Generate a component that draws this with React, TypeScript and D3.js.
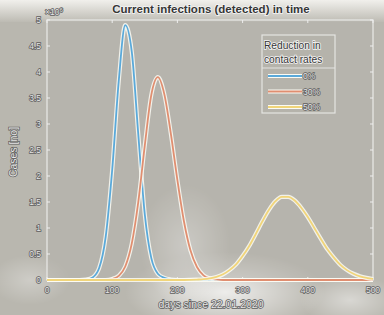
import React from 'react';
import * as d3 from 'd3';

// days since 22.01.2020, sampled every 10 days
const days = d3.range(0, 501, 10);

const reduction0 = [
  0, 0, 0, 0, 0, 0, 0.01, 0.05, 0.23, 0.83, 2.12, 3.82, 4.9, 4.39, 2.8, 1.26,
  0.42, 0.12, 0.04, 0.01, 0, 0, 0, 0, 0, 0, 0, 0, 0, 0, 0, 0, 0, 0, 0, 0,
  0, 0, 0, 0, 0, 0, 0, 0, 0, 0, 0, 0, 0, 0, 0,
];
const reduction30 = [
  0, 0, 0, 0, 0, 0, 0, 0, 0, 0, 0.02, 0.08, 0.26, 0.7, 1.5, 2.59, 3.56, 3.9,
  3.57, 2.81, 1.92, 1.13, 0.57, 0.25, 0.09, 0.03, 0.01, 0, 0, 0, 0, 0, 0, 0,
  0, 0, 0, 0, 0, 0, 0, 0, 0, 0, 0, 0, 0, 0, 0, 0, 0,
];
const reduction50 = [
  0, 0, 0, 0, 0, 0, 0, 0, 0, 0, 0, 0, 0, 0, 0, 0, 0, 0, 0, 0, 0, 0, 0.003,
  0.008, 0.015, 0.03, 0.06, 0.11, 0.19, 0.3, 0.46, 0.65, 0.88, 1.12, 1.34,
  1.51, 1.6, 1.6, 1.53, 1.39, 1.21, 1.0, 0.79, 0.59, 0.43, 0.29, 0.19, 0.12,
  0.07, 0.04, 0.02,
];

const seriesNames = ['0%', '30%', '50%'];
const seriesColors = ['#5aa9da', '#e08e70', '#f1d57a'];
const seriesValues = [reduction0, reduction30, reduction50];

const yTicks = [0, 0.5, 1, 1.5, 2, 2.5, 3, 3.5, 4, 4.5, 5];
const xTicks = [0, 100, 200, 300, 400, 500];

const W = 384;
const H = 315;
const margin = { top: 20, right: 11, bottom: 35, left: 47 };
const font = 'Liberation Sans, Arial, sans-serif';

const App = () => {
  const x = d3.scaleLinear().domain([0, 500]).range([margin.left, W - margin.right]);
  const y = d3.scaleLinear().domain([0, 5]).range([H - margin.bottom, margin.top]);

  const line = d3.line<number>()
    .x((_, i) => x(days[i]))
    .y(d => y(d))
    .curve(d3.curveMonotoneX);

  const tickText = {
    fontSize: 8.5,
    fill: '#e6e6e6',
    stroke: '#5e5e5e',
    strokeWidth: 1.5,
    paintOrder: 'stroke',
    fontFamily: font,
  } as React.CSSProperties;

  const darkText = {
    fontFamily: font,
    fill: '#363636',
    stroke: '#f4f4f4',
    strokeWidth: 1.6,
    paintOrder: 'stroke',
  } as React.CSSProperties;

  const x0 = x(0);
  const x1 = x(500);
  const yb = y(0);
  const yt = y(5);

  return (
    <div style={{ position: 'fixed', left: 0, top: 0 }}>
      <svg width={W} height={H} style={{ display: 'block' }}>
        <defs>
          <linearGradient id="topfade" x1="0" y1="0" x2="0" y2="1">
            <stop offset="0" stopColor="#f1f0ec" />
            <stop offset="1" stopColor="#bdbbb3" />
          </linearGradient>
          <radialGradient id="cloud">
            <stop offset="0" stopColor="#ffffff" stopOpacity="0.75" />
            <stop offset="1" stopColor="#ffffff" stopOpacity="0" />
          </radialGradient>
        </defs>
        <rect width={W} height={H} fill="#b9b7af" />
        <rect width={W} height={22} fill="url(#topfade)" />
        <ellipse cx={225} cy={292} rx={100} ry={40} fill="url(#cloud)" />
        <ellipse cx={185} cy={245} rx={45} ry={60} fill="url(#cloud)" opacity={0.7} />
        <ellipse cx={350} cy={300} rx={50} ry={25} fill="url(#cloud)" opacity={0.6} />
        <ellipse cx={30} cy={280} rx={40} ry={25} fill="url(#cloud)" opacity={0.4} />

        {/* plot box */}
        <rect x={x0} y={yt} width={x1 - x0} height={yb - yt} fill="#b4b2aa" fillOpacity={0.45}
          stroke="#e6e6e4" strokeWidth={1.3} />

        {/* ticks */}
        {yTicks.map(t => (
          <g key={'y' + t}>
            <line x1={x0} x2={x0 + 3} y1={y(t)} y2={y(t)} stroke="#eeeeee" />
            <line x1={x1} x2={x1 - 3} y1={y(t)} y2={y(t)} stroke="#eeeeee" />
            <text x={x0 - 6} y={y(t) + 3} textAnchor="end" style={tickText}>{t}</text>
          </g>
        ))}
        {xTicks.map(t => (
          <g key={'x' + t}>
            <line x1={x(t)} x2={x(t)} y1={yb} y2={yb - 3} stroke="#eeeeee" />
            <line x1={x(t)} x2={x(t)} y1={yt} y2={yt + 3} stroke="#eeeeee" />
            <text x={x(t)} y={yb + 13} textAnchor="middle" style={tickText}>{t}</text>
          </g>
        ))}
        <text x={x0 - 2} y={yt - 5} style={tickText}>
          ×10<tspan dy={-3} fontSize={6}>6</tspan>
        </text>

        {/* curves */}
        {seriesValues.map((vals, i) => (
          <g key={seriesNames[i]}>
            <path d={line(vals) || ''} fill="none" stroke="#fbfbf4" strokeWidth={4.2} strokeOpacity={0.85} />
            <path d={line(vals) || ''} fill="none" stroke={seriesColors[i]} strokeWidth={1.8} />
          </g>
        ))}

        {/* title and labels */}
        <text x={211} y={13} textAnchor="middle" fontSize={11.5} fontWeight="bold" style={darkText}>
          Current infections (detected) in time
        </text>
        <text x={211} y={308} textAnchor="middle" style={{ ...tickText, fontSize: 10.5 }}>
          days since 22.01.2020
        </text>
        <text transform={`translate(17,${(yt + yb) / 2 + 2}) rotate(-90)`} textAnchor="middle"
          style={{ ...tickText, fontSize: 10.5 }}>
          Cases [no]
        </text>

        {/* legend */}
        <g>
          <rect x={262} y={35} width={73} height={78} fill="#b5b3ab" stroke="#e4e4e2" strokeWidth={1.2} />
          <line x1={262} x2={335} y1={68} y2={68} stroke="#e4e4e2" strokeWidth={1.2} />
          <text x={264} y={49} fontSize={10.2} style={darkText}>Reduction in</text>
          <text x={264} y={63} fontSize={10.2} style={darkText}>contact rates</text>
          {seriesNames.map((n, i) => {
            const ly = 76 + i * 15.5;
            return (
              <g key={n}>
                <line x1={268} x2={302} y1={ly} y2={ly} stroke="#fbfbf4" strokeWidth={4} />
                <line x1={268} x2={302} y1={ly} y2={ly} stroke={seriesColors[i]} strokeWidth={1.8} />
                <text x={303} y={ly + 3} style={tickText}>{n}</text>
              </g>
            );
          })}
        </g>
      </svg>
    </div>
  );
};

export default App;
